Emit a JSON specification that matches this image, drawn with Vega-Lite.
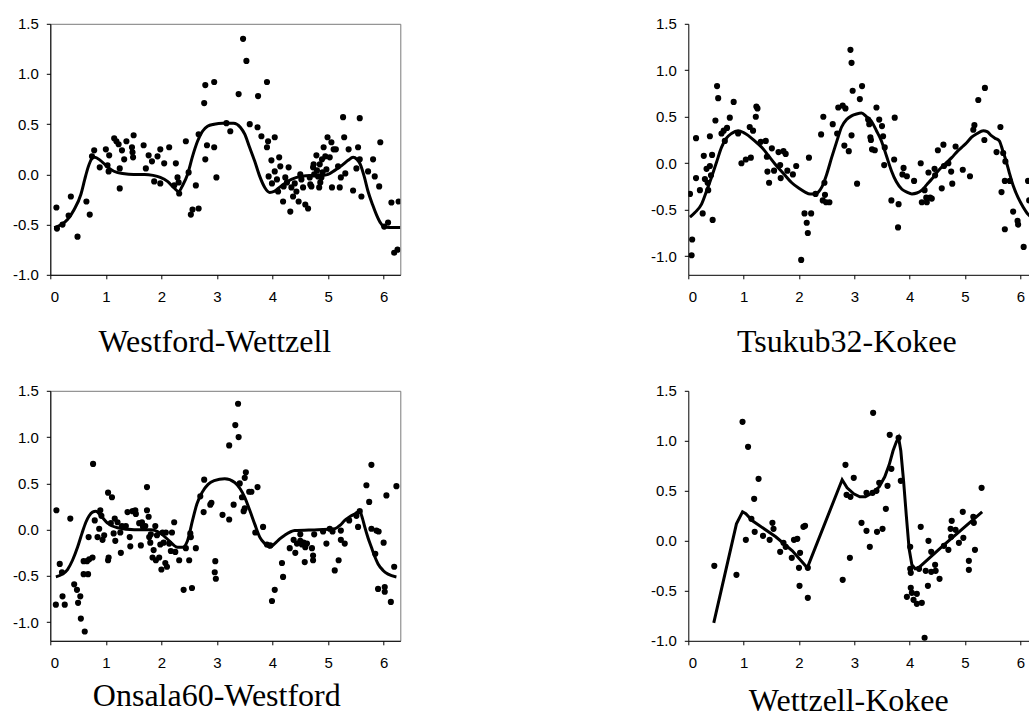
{
  "$schema": "https://vega.github.io/schema/vega-lite/v6.json",
  "padding": {"left": 9.3, "top": 15.8, "right": 0, "bottom": 0},
  "background": "white",
  "config": {
    "view": {"stroke": "#7a7a7a", "strokeWidth": 1},
    "axis": {
      "grid": false, "domainColor": "black", "domainWidth": 1, "tickColor": "black", "tickSize": 4,
      "labelFont": "Liberation Sans", "labelFontSize": 15, "labelColor": "black",
      "titleFont": "Liberation Serif", "titleFontSize": 32, "titleFontWeight": "normal", "titleColor": "black"
    },
    "axisX": {"labelFontSize": 15},
    "axisY": {"minExtent": 40, "maxExtent": 40, "labelFontSize": 15}
  },
  "datasets": {
    "tl_pts": [
      {"x":0.11,"y":-0.33},{"x":0.12,"y":-0.54},{"x":0.22,"y":-0.5},{"x":0.33,"y":-0.41},{"x":0.37,"y":-0.22},{"x":0.49,"y":-0.62},{"x":0.65,"y":-0.27},{"x":0.71,"y":-0.4},{"x":0.75,"y":0.18},{"x":0.79,"y":0.24},{"x":0.89,"y":0.07},{"x":1.0,"y":0.25},{"x":1.06,"y":0.19},{"x":1.03,"y":0.09},{"x":1.05,"y":0.03},{"x":1.15,"y":0.36},{"x":1.19,"y":0.33},{"x":1.23,"y":0.3},{"x":1.25,"y":0.06},{"x":1.25,"y":-0.14},{"x":1.29,"y":0.24},{"x":1.33,"y":0.15},{"x":1.37,"y":0.33},{"x":1.47,"y":0.27},{"x":1.48,"y":0.22},{"x":1.49,"y":0.17},{"x":1.5,"y":0.39},{"x":1.68,"y":0.29},{"x":1.72,"y":0.06},{"x":1.77,"y":0.19},{"x":1.83,"y":0.13},{"x":1.87,"y":-0.07},{"x":1.93,"y":0.18},{"x":1.98,"y":0.25},{"x":1.98,"y":-0.09},{"x":2.05,"y":0.11},{"x":2.14,"y":0.27},{"x":2.23,"y":-0.11},{"x":2.26,"y":0.11},{"x":2.29,"y":-0.03},{"x":2.31,"y":-0.08},{"x":2.32,"y":-0.19},{"x":2.44,"y":0.33},{"x":2.49,"y":0.02},{"x":2.53,"y":-0.4},{"x":2.56,"y":-0.35},{"x":2.62,"y":-0.11},{"x":2.67,"y":0.4},{"x":2.67,"y":-0.34},{"x":2.77,"y":0.71},{"x":2.79,"y":0.89},{"x":2.79,"y":0.15},{"x":2.82,"y":0.29},{"x":2.95,"y":0.92},{"x":2.95,"y":0.27},{"x":2.99,"y":-0.03},{"x":3.17,"y":0.51},{"x":3.24,"y":0.43},{"x":3.39,"y":0.8},{"x":3.47,"y":1.35},{"x":3.53,"y":1.13},{"x":3.59,"y":0.5},{"x":3.73,"y":0.47},{"x":3.74,"y":0.78},{"x":3.8,"y":0.38},{"x":3.9,"y":0.92},{"x":3.9,"y":0.27},{"x":3.92,"y":0.33},{"x":3.93,"y":-0.02},{"x":3.98,"y":0.14},{"x":3.99,"y":-0.09},{"x":4.04,"y":0.37},{"x":4.04,"y":0.03},{"x":4.08,"y":-0.05},{"x":4.12,"y":0.17},{"x":4.1,"y":-0.17},{"x":4.14,"y":0.08},{"x":4.19,"y":-0.27},{"x":4.2,"y":-0.12},{"x":4.23,"y":-0.03},{"x":4.26,"y":-0.08},{"x":4.29,"y":0.07},{"x":4.32,"y":-0.37},{"x":4.34,"y":-0.13},{"x":4.37,"y":-0.22},{"x":4.4,"y":-0.09},{"x":4.43,"y":-0.17},{"x":4.47,"y":-0.27},{"x":4.5,"y":0.0},{"x":4.52,"y":-0.05},{"x":4.55,"y":-0.13},{"x":4.59,"y":-0.3},{"x":4.64,"y":-0.34},{"x":4.67,"y":-0.03},{"x":4.7,"y":-0.12},{"x":4.73,"y":0.07},{"x":4.74,"y":0.1},{"x":4.79,"y":0.19},{"x":4.8,"y":0.04},{"x":4.82,"y":-0.02},{"x":4.84,"y":-0.13},{"x":4.85,"y":0.1},{"x":4.88,"y":-0.03},{"x":4.89,"y":0.15},{"x":4.92,"y":0.27},{"x":4.95,"y":0.18},{"x":4.97,"y":0.05},{"x":4.99,"y":0.37},{"x":5.03,"y":0.17},{"x":5.06,"y":0.32},{"x":5.07,"y":-0.13},{"x":5.1,"y":0.25},{"x":5.14,"y":0.25},{"x":5.18,"y":0.08},{"x":5.21,"y":-0.13},{"x":5.23,"y":-0.03},{"x":5.27,"y":0.57},{"x":5.29,"y":0.37},{"x":5.31,"y":0.01},{"x":5.37,"y":0.25},{"x":5.45,"y":-0.16},{"x":5.51,"y":0.06},{"x":5.54,"y":0.27},{"x":5.57,"y":0.56},{"x":5.57,"y":0.15},{"x":5.6,"y":-0.22},{"x":5.72,"y":0.03},{"x":5.81,"y":0.15},{"x":5.84,"y":-0.02},{"x":5.92,"y":-0.12},{"x":5.94,"y":0.32},{"x":6.01,"y":-0.52},{"x":6.08,"y":-0.48},{"x":6.14,"y":-0.28},{"x":6.19,"y":-0.78},{"x":6.25,"y":-0.75},{"x":6.27,"y":-0.27},{"x":4.68,"y":-0.1},{"x":4.75,"y":0.0},{"x":4.86,"y":-0.08},{"x":4.9,"y":0.02}
    ],
    "tl_fit": [
      {"x":0.07,"y":-0.53},{"x":0.2,"y":-0.5},{"x":0.31,"y":-0.45},{"x":0.43,"y":-0.35},{"x":0.55,"y":-0.2},{"x":0.62,"y":-0.05},{"x":0.68,"y":0.07},{"x":0.74,"y":0.15},{"x":0.8,"y":0.17},{"x":0.9,"y":0.14},{"x":1.0,"y":0.09},{"x":1.09,"y":0.05},{"x":1.2,"y":0.02},{"x":1.3,"y":0.01},{"x":1.5,"y":0.0},{"x":1.7,"y":0.0},{"x":1.85,"y":-0.01},{"x":1.98,"y":-0.03},{"x":2.11,"y":-0.07},{"x":2.22,"y":-0.13},{"x":2.31,"y":-0.17},{"x":2.39,"y":-0.1},{"x":2.47,"y":0.0},{"x":2.56,"y":0.18},{"x":2.65,"y":0.33},{"x":2.74,"y":0.43},{"x":2.83,"y":0.48},{"x":2.95,"y":0.5},{"x":3.1,"y":0.51},{"x":3.3,"y":0.51},{"x":3.42,"y":0.47},{"x":3.5,"y":0.4},{"x":3.58,"y":0.28},{"x":3.68,"y":0.13},{"x":3.77,"y":-0.02},{"x":3.86,"y":-0.13},{"x":3.95,"y":-0.18},{"x":4.03,"y":-0.17},{"x":4.1,"y":-0.14},{"x":4.22,"y":-0.09},{"x":4.34,"y":-0.05},{"x":4.5,"y":-0.02},{"x":4.7,"y":-0.01},{"x":4.9,"y":-0.01},{"x":5.0,"y":0.0},{"x":5.12,"y":0.04},{"x":5.25,"y":0.09},{"x":5.36,"y":0.14},{"x":5.45,"y":0.17},{"x":5.52,"y":0.15},{"x":5.58,"y":0.1},{"x":5.65,"y":-0.02},{"x":5.72,"y":-0.17},{"x":5.8,"y":-0.3},{"x":5.87,"y":-0.4},{"x":5.94,"y":-0.48},{"x":6.0,"y":-0.52},{"x":6.1,"y":-0.53},{"x":6.3,"y":-0.53}
    ],
    "tr_pts": [
      {"x":0.03,"y":-0.33},{"x":0.06,"y":-0.99},{"x":0.07,"y":-0.82},{"x":0.14,"y":0.27},{"x":0.14,"y":-0.16},{"x":0.21,"y":-0.29},{"x":0.26,"y":-0.54},{"x":0.28,"y":0.08},{"x":0.3,"y":-0.17},{"x":0.33,"y":-0.06},{"x":0.35,"y":-0.21},{"x":0.36,"y":-0.29},{"x":0.39,"y":0.29},{"x":0.39,"y":-0.03},{"x":0.41,"y":-0.13},{"x":0.43,"y":0.09},{"x":0.44,"y":-0.61},{"x":0.49,"y":0.46},{"x":0.52,"y":0.83},{"x":0.54,"y":0.7},{"x":0.6,"y":0.32},{"x":0.64,"y":0.35},{"x":0.66,"y":0.24},{"x":0.7,"y":0.38},{"x":0.75,"y":0.49},{"x":0.82,"y":0.66},{"x":0.9,"y":0.32},{"x":0.96,"y":0.0},{"x":1.04,"y":0.04},{"x":1.11,"y":0.39},{"x":1.13,"y":0.06},{"x":1.17,"y":0.35},{"x":1.22,"y":0.5},{"x":1.23,"y":0.61},{"x":1.25,"y":0.59},{"x":1.31,"y":0.23},{"x":1.4,"y":0.24},{"x":1.42,"y":0.07},{"x":1.43,"y":-0.09},{"x":1.46,"y":-0.21},{"x":1.51,"y":0.16},{"x":1.55,"y":-0.08},{"x":1.63,"y":0.12},{"x":1.66,"y":-0.02},{"x":1.67,"y":-0.16},{"x":1.72,"y":0.13},{"x":1.76,"y":0.1},{"x":1.79,"y":-0.08},{"x":1.89,"y":-0.12},{"x":1.95,"y":-0.03},{"x":2.04,"y":-1.04},{"x":2.1,"y":-0.54},{"x":2.14,"y":-0.64},{"x":2.16,"y":-0.75},{"x":2.18,"y":0.06},{"x":2.22,"y":-0.54},{"x":2.3,"y":-0.33},{"x":2.4,"y":0.31},{"x":2.44,"y":0.5},{"x":2.46,"y":-0.21},{"x":2.43,"y":-0.4},{"x":2.47,"y":-0.34},{"x":2.49,"y":-0.42},{"x":2.55,"y":-0.42},{"x":2.61,"y":0.42},{"x":2.69,"y":0.32},{"x":2.71,"y":0.6},{"x":2.79,"y":0.62},{"x":2.82,"y":0.19},{"x":2.84,"y":0.59},{"x":2.9,"y":0.13},{"x":2.93,"y":1.22},{"x":2.95,"y":1.08},{"x":2.95,"y":0.3},{"x":2.97,"y":0.78},{"x":3.05,"y":-0.22},{"x":3.1,"y":0.69},{"x":3.14,"y":0.83},{"x":3.25,"y":0.47},{"x":3.27,"y":0.42},{"x":3.29,"y":0.28},{"x":3.3,"y":0.25},{"x":3.32,"y":0.15},{"x":3.37,"y":0.14},{"x":3.4,"y":0.6},{"x":3.45,"y":0.47},{"x":3.5,"y":0.4},{"x":3.52,"y":0.29},{"x":3.54,"y":-0.02},{"x":3.55,"y":0.17},{"x":3.72,"y":0.04},{"x":3.67,"y":-0.4},{"x":3.73,"y":0.49},{"x":3.8,"y":-0.44},{"x":3.79,"y":-0.69},{"x":3.87,"y":-0.12},{"x":3.89,"y":-0.05},{"x":3.95,"y":-0.14},{"x":4.08,"y":-0.19},{"x":4.2,"y":0.0},{"x":4.22,"y":-0.42},{"x":4.27,"y":-0.29},{"x":4.3,"y":-0.37},{"x":4.31,"y":-0.42},{"x":4.34,"y":-0.1},{"x":4.37,"y":-0.37},{"x":4.4,"y":-0.38},{"x":4.45,"y":-0.06},{"x":4.46,"y":-0.13},{"x":4.51,"y":0.14},{"x":4.58,"y":-0.27},{"x":4.61,"y":0.2},{"x":4.62,"y":-0.03},{"x":4.7,"y":0.0},{"x":4.75,"y":-0.09},{"x":4.77,"y":-0.22},{"x":4.83,"y":0.18},{"x":4.96,"y":-0.07},{"x":5.09,"y":-0.14},{"x":5.15,"y":0.36},{"x":5.17,"y":0.41},{"x":5.24,"y":0.68},{"x":5.35,"y":0.25},{"x":5.36,"y":0.81},{"x":5.57,"y":0.12},{"x":5.64,"y":0.39},{"x":5.66,"y":-0.31},{"x":5.69,"y":0.11},{"x":5.72,"y":-0.19},{"x":5.72,"y":-0.71},{"x":5.73,"y":0.02},{"x":5.81,"y":-0.19},{"x":5.87,"y":-0.52},{"x":5.95,"y":-0.62},{"x":5.96,"y":-0.66},{"x":6.06,"y":-0.9},{"x":6.14,"y":-0.19},{"x":6.16,"y":-0.4},{"x":6.22,"y":0.1}
    ],
    "tr_fit": [
      {"x":0.03,"y":-0.58},{"x":0.12,"y":-0.53},{"x":0.24,"y":-0.44},{"x":0.33,"y":-0.3},{"x":0.42,"y":-0.15},{"x":0.51,"y":0.01},{"x":0.6,"y":0.17},{"x":0.69,"y":0.27},{"x":0.78,"y":0.32},{"x":0.9,"y":0.35},{"x":1.0,"y":0.33},{"x":1.08,"y":0.3},{"x":1.2,"y":0.24},{"x":1.33,"y":0.17},{"x":1.45,"y":0.08},{"x":1.57,"y":-0.01},{"x":1.72,"y":-0.11},{"x":1.87,"y":-0.21},{"x":2.0,"y":-0.27},{"x":2.11,"y":-0.31},{"x":2.2,"y":-0.33},{"x":2.29,"y":-0.33},{"x":2.35,"y":-0.31},{"x":2.41,"y":-0.26},{"x":2.5,"y":-0.12},{"x":2.59,"y":0.06},{"x":2.68,"y":0.23},{"x":2.77,"y":0.39},{"x":2.86,"y":0.47},{"x":2.95,"y":0.51},{"x":3.04,"y":0.53},{"x":3.13,"y":0.54},{"x":3.22,"y":0.5},{"x":3.31,"y":0.45},{"x":3.4,"y":0.35},{"x":3.49,"y":0.24},{"x":3.58,"y":0.08},{"x":3.67,"y":-0.08},{"x":3.76,"y":-0.2},{"x":3.86,"y":-0.28},{"x":3.95,"y":-0.31},{"x":4.04,"y":-0.33},{"x":4.13,"y":-0.32},{"x":4.22,"y":-0.29},{"x":4.31,"y":-0.23},{"x":4.4,"y":-0.17},{"x":4.49,"y":-0.1},{"x":4.58,"y":-0.04},{"x":4.67,"y":0.01},{"x":4.76,"y":0.06},{"x":4.85,"y":0.12},{"x":4.94,"y":0.17},{"x":5.03,"y":0.22},{"x":5.12,"y":0.28},{"x":5.22,"y":0.32},{"x":5.33,"y":0.35},{"x":5.4,"y":0.34},{"x":5.47,"y":0.3},{"x":5.54,"y":0.27},{"x":5.62,"y":0.24},{"x":5.68,"y":0.14},{"x":5.74,"y":0.03},{"x":5.8,"y":-0.1},{"x":5.87,"y":-0.24},{"x":5.96,"y":-0.37},{"x":6.05,"y":-0.47},{"x":6.14,"y":-0.55},{"x":6.28,"y":-0.6}
    ],
    "bl_pts": [
      {"x":0.11,"y":0.21},{"x":0.1,"y":-0.81},{"x":0.17,"y":-0.37},{"x":0.21,"y":-0.46},{"x":0.22,"y":-0.72},{"x":0.26,"y":-0.81},{"x":0.36,"y":0.12},{"x":0.43,"y":-0.59},{"x":0.48,"y":-0.65},{"x":0.5,"y":-0.79},{"x":0.54,"y":-0.72},{"x":0.55,"y":-0.96},{"x":0.6,"y":-0.34},{"x":0.6,"y":-0.48},{"x":0.62,"y":-1.1},{"x":0.66,"y":-0.34},{"x":0.68,"y":-0.48},{"x":0.69,"y":-0.08},{"x":0.7,"y":-0.32},{"x":0.76,"y":-0.3},{"x":0.77,"y":0.71},{"x":0.8,"y":0.1},{"x":0.85,"y":-0.08},{"x":0.88,"y":0.01},{"x":0.9,"y":0.21},{"x":0.92,"y":0.15},{"x":0.94,"y":-0.11},{"x":0.97,"y":-0.06},{"x":1.04,"y":0.4},{"x":1.04,"y":-0.33},{"x":1.05,"y":-0.3},{"x":1.09,"y":0.07},{"x":1.11,"y":0.35},{"x":1.14,"y":-0.04},{"x":1.16,"y":0.12},{"x":1.17,"y":-0.12},{"x":1.21,"y":0.08},{"x":1.26,"y":-0.03},{"x":1.27,"y":-0.25},{"x":1.29,"y":0.04},{"x":1.36,"y":0.04},{"x":1.39,"y":0.19},{"x":1.43,"y":-0.08},{"x":1.44,"y":-0.18},{"x":1.48,"y":0.2},{"x":1.54,"y":0.17},{"x":1.53,"y":0.21},{"x":1.6,"y":0.07},{"x":1.63,"y":-0.17},{"x":1.65,"y":0.08},{"x":1.67,"y":0.03},{"x":1.71,"y":0.04},{"x":1.74,"y":0.46},{"x":1.74,"y":0.21},{"x":1.77,"y":0.14},{"x":1.78,"y":-0.08},{"x":1.8,"y":-0.14},{"x":1.81,"y":-0.05},{"x":1.84,"y":-0.3},{"x":1.86,"y":-0.22},{"x":1.89,"y":0.04},{"x":1.9,"y":-0.33},{"x":1.92,"y":-0.06},{"x":1.96,"y":-0.3},{"x":1.98,"y":-0.16},{"x":2.0,"y":-0.43},{"x":2.02,"y":-0.03},{"x":2.04,"y":-0.14},{"x":2.07,"y":-0.36},{"x":2.08,"y":-0.03},{"x":2.1,"y":-0.4},{"x":2.14,"y":-0.15},{"x":2.17,"y":-0.23},{"x":2.19,"y":-0.03},{"x":2.23,"y":0.08},{"x":2.25,"y":-0.24},{"x":2.32,"y":-0.33},{"x":2.4,"y":-0.65},{"x":2.44,"y":-0.2},{"x":2.5,"y":-0.33},{"x":2.52,"y":-0.04},{"x":2.53,"y":-0.08},{"x":2.55,"y":-0.63},{"x":2.62,"y":-0.2},{"x":2.7,"y":0.36},{"x":2.76,"y":0.19},{"x":2.77,"y":0.54},{"x":2.88,"y":0.27},{"x":2.9,"y":0.29},{"x":2.96,"y":-0.46},{"x":2.97,"y":-0.34},{"x":2.98,"y":-0.53},{"x":3.1,"y":0.16},{"x":3.22,"y":0.11},{"x":3.22,"y":0.91},{"x":3.3,"y":0.27},{"x":3.33,"y":1.13},{"x":3.38,"y":1.36},{"x":3.39,"y":1.0},{"x":3.41,"y":0.5},{"x":3.45,"y":0.35},{"x":3.48,"y":0.2},{"x":3.5,"y":0.23},{"x":3.5,"y":0.56},{"x":3.52,"y":0.62},{"x":3.58,"y":0.41},{"x":3.62,"y":0.41},{"x":3.69,"y":-0.03},{"x":3.73,"y":0.46},{"x":3.83,"y":0.03},{"x":3.9,"y":-0.16},{"x":3.96,"y":-0.17},{"x":3.99,"y":-0.77},{"x":4.04,"y":-0.65},{"x":4.17,"y":-0.36},{"x":4.19,"y":-0.51},{"x":4.31,"y":-0.2},{"x":4.38,"y":-0.11},{"x":4.41,"y":-0.25},{"x":4.44,"y":-0.15},{"x":4.5,"y":-0.05},{"x":4.5,"y":-0.12},{"x":4.53,"y":-0.16},{"x":4.56,"y":-0.14},{"x":4.58,"y":-0.35},{"x":4.59,"y":-0.19},{"x":4.62,"y":-0.15},{"x":4.71,"y":-0.2},{"x":4.73,"y":-0.28},{"x":4.73,"y":-0.33},{"x":4.75,"y":-0.05},{"x":4.91,"y":-0.02},{"x":4.97,"y":-0.15},{"x":5.03,"y":0.01},{"x":5.08,"y":-0.02},{"x":5.12,"y":-0.44},{"x":5.19,"y":-0.33},{"x":5.23,"y":-0.01},{"x":5.23,"y":-0.11},{"x":5.3,"y":-0.15},{"x":5.38,"y":0.1},{"x":5.51,"y":0.15},{"x":5.54,"y":0.03},{"x":5.57,"y":0.2},{"x":5.69,"y":0.48},{"x":5.74,"y":0.3},{"x":5.78,"y":0.7},{"x":5.78,"y":0.01},{"x":5.85,"y":-0.26},{"x":5.87,"y":-0.01},{"x":5.9,"y":-0.64},{"x":5.91,"y":-0.02},{"x":6.0,"y":-0.14},{"x":6.02,"y":-0.67},{"x":6.02,"y":-0.62},{"x":6.05,"y":0.37},{"x":6.13,"y":-0.78},{"x":6.19,"y":-0.4},{"x":6.23,"y":0.47}
    ],
    "bl_fit": [
      {"x":0.1,"y":-0.51},{"x":0.22,"y":-0.48},{"x":0.31,"y":-0.43},{"x":0.4,"y":-0.33},{"x":0.49,"y":-0.19},{"x":0.57,"y":-0.04},{"x":0.64,"y":0.08},{"x":0.7,"y":0.15},{"x":0.76,"y":0.19},{"x":0.82,"y":0.2},{"x":0.91,"y":0.15},{"x":1.03,"y":0.07},{"x":1.21,"y":0.02},{"x":1.51,"y":0.0},{"x":1.81,"y":0.0},{"x":1.99,"y":-0.04},{"x":2.14,"y":-0.12},{"x":2.29,"y":-0.19},{"x":2.38,"y":-0.19},{"x":2.47,"y":-0.12},{"x":2.56,"y":0.1},{"x":2.64,"y":0.28},{"x":2.73,"y":0.4},{"x":2.84,"y":0.49},{"x":2.95,"y":0.53},{"x":3.14,"y":0.55},{"x":3.32,"y":0.51},{"x":3.42,"y":0.44},{"x":3.5,"y":0.35},{"x":3.59,"y":0.21},{"x":3.68,"y":0.06},{"x":3.77,"y":-0.08},{"x":3.86,"y":-0.15},{"x":3.95,"y":-0.19},{"x":4.04,"y":-0.15},{"x":4.13,"y":-0.1},{"x":4.22,"y":-0.06},{"x":4.4,"y":-0.01},{"x":4.82,"y":0.0},{"x":5.12,"y":0.01},{"x":5.22,"y":0.05},{"x":5.3,"y":0.1},{"x":5.39,"y":0.14},{"x":5.48,"y":0.17},{"x":5.57,"y":0.2},{"x":5.62,"y":0.12},{"x":5.66,"y":0.03},{"x":5.72,"y":-0.09},{"x":5.78,"y":-0.19},{"x":5.84,"y":-0.29},{"x":5.9,"y":-0.37},{"x":5.99,"y":-0.44},{"x":6.08,"y":-0.48},{"x":6.23,"y":-0.51}
    ],
    "br_pts": [
      {"x":0.47,"y":-0.25},{"x":0.87,"y":-0.34},{"x":0.98,"y":1.19},{"x":1.04,"y":0.01},{"x":1.08,"y":0.94},{"x":1.14,"y":0.22},{"x":1.19,"y":0.42},{"x":1.2,"y":0.09},{"x":1.27,"y":0.62},{"x":1.35,"y":0.05},{"x":1.47,"y":0.01},{"x":1.52,"y":0.18},{"x":1.54,"y":0.12},{"x":1.66,"y":-0.11},{"x":1.72,"y":-0.02},{"x":1.76,"y":-0.06},{"x":1.87,"y":-0.17},{"x":1.91,"y":0.01},{"x":1.97,"y":0.02},{"x":2.0,"y":-0.27},{"x":2.01,"y":-0.45},{"x":2.02,"y":-0.12},{"x":2.08,"y":0.14},{"x":2.11,"y":0.15},{"x":2.16,"y":-0.27},{"x":2.16,"y":-0.57},{"x":2.79,"y":-0.39},{"x":2.84,"y":0.76},{"x":2.86,"y":0.46},{"x":2.93,"y":0.44},{"x":2.99,"y":0.63},{"x":2.92,"y":-0.17},{"x":3.13,"y":0.18},{"x":3.22,"y":0.1},{"x":3.22,"y":0.48},{"x":3.28,"y":-0.06},{"x":3.33,"y":0.48},{"x":3.34,"y":1.28},{"x":3.41,"y":0.09},{"x":3.4,"y":0.5},{"x":3.45,"y":0.58},{"x":3.51,"y":0.12},{"x":3.57,"y":0.32},{"x":3.6,"y":0.55},{"x":3.64,"y":1.06},{"x":3.67,"y":0.72},{"x":3.8,"y":1.03},{"x":3.84,"y":0.6},{"x":3.95,"y":-0.56},{"x":4.01,"y":-0.06},{"x":4.01,"y":-0.28},{"x":4.02,"y":-0.32},{"x":4.02,"y":-0.47},{"x":4.04,"y":-0.52},{"x":4.07,"y":-0.59},{"x":4.13,"y":-0.53},{"x":4.13,"y":-0.63},{"x":4.17,"y":-0.28},{"x":4.2,"y":0.14},{"x":4.22,"y":-0.62},{"x":4.27,"y":-0.97},{"x":4.29,"y":-0.3},{"x":4.33,"y":-0.45},{"x":4.34,"y":0.0},{"x":4.39,"y":-0.31},{"x":4.39,"y":-0.11},{"x":4.46,"y":-0.24},{"x":4.47,"y":-0.3},{"x":4.54,"y":-0.38},{"x":4.62,"y":-0.05},{"x":4.7,"y":-0.09},{"x":4.75,"y":0.04},{"x":4.74,"y":0.12},{"x":4.76,"y":0.2},{"x":4.83,"y":0.11},{"x":4.89,"y":-0.02},{"x":4.96,"y":0.29},{"x":4.97,"y":0.03},{"x":5.07,"y":-0.2},{"x":5.07,"y":-0.29},{"x":5.15,"y":0.24},{"x":5.16,"y":0.18},{"x":5.18,"y":-0.09},{"x":5.3,"y":0.53}
    ],
    "br_fit": [
      {"x":0.46,"y":-0.82},{"x":0.87,"y":0.17},{"x":0.98,"y":0.29},{"x":1.04,"y":0.27},{"x":1.16,"y":0.2},{"x":1.58,"y":0.04},{"x":1.88,"y":-0.1},{"x":2.15,"y":-0.27},{"x":2.78,"y":0.61},{"x":2.87,"y":0.53},{"x":2.99,"y":0.47},{"x":3.1,"y":0.44},{"x":3.2,"y":0.44},{"x":3.33,"y":0.48},{"x":3.45,"y":0.54},{"x":3.55,"y":0.64},{"x":3.63,"y":0.76},{"x":3.7,"y":0.9},{"x":3.76,"y":0.99},{"x":3.8,"y":1.03},{"x":3.84,"y":0.9},{"x":3.89,"y":0.6},{"x":3.94,"y":0.25},{"x":3.99,"y":-0.08},{"x":4.04,"y":-0.24},{"x":4.1,"y":-0.28},{"x":4.16,"y":-0.27},{"x":4.3,"y":-0.2},{"x":4.6,"y":-0.05},{"x":5.31,"y":0.29}
    ]
  },
  "spacing": {"row": 25, "column": 247},
  "columns": 2,
  "concat": [
    {
      "width": 350, "height": 251,
      "layer": [
        {"data": {"name": "tl_pts"}, "mark": {"type": "circle", "size": 38, "color": "black", "opacity": 1, "clip": true},
         "encoding": {
           "x": {"field": "x", "type": "quantitative", "scale": {"domain": [0, 6.3], "nice": false, "zero": false},
                 "axis": {"values": [0,1,2,3,4,5,6], "format": "d", "labelFontSize": 15, "labelPadding": 11, "title": "Westford-Wettzell", "titlePadding": 21.4, "titleX": 164}},
           "y": {"field": "y", "type": "quantitative", "scale": {"domain": [-1, 1.5], "nice": false, "zero": false},
                 "axis": {"values": [-1,-0.5,0,0.5,1,1.5], "labelFontSize": 15, "labelExpr": "datum.value < 0 ? '-' + format(-datum.value, '.1f') : format(datum.value, '.1f')", "labelPadding": 8, "title": null}}
         }},
        {"data": {"name": "tl_fit"}, "mark": {"type": "line", "color": "black", "strokeWidth": 3, "interpolate": "monotone", "clip": true},
         "encoding": {"x": {"field": "x", "type": "quantitative"}, "y": {"field": "y", "type": "quantitative"}}}
      ]
    },
    {
      "width": 342, "height": 251,
      "view": {"stroke": null},
      "layer": [
        {"data": {"name": "tr_pts"}, "mark": {"type": "circle", "size": 38, "color": "black", "opacity": 1, "clip": true},
         "encoding": {
           "x": {"field": "x", "type": "quantitative", "scale": {"domain": [0, 6.18], "nice": false, "zero": false},
                 "axis": {"values": [0,1,2,3,4,5,6], "format": "d", "labelFontSize": 15, "labelPadding": 11, "title": "Tsukub32-Kokee", "titlePadding": 21.4, "titleX": 158}},
           "y": {"field": "y", "type": "quantitative", "scale": {"domain": [-1.2, 1.5], "nice": false, "zero": false},
                 "axis": {"values": [-1,-0.5,0,0.5,1,1.5], "labelFontSize": 15, "labelExpr": "datum.value < 0 ? '-' + format(-datum.value, '.1f') : format(datum.value, '.1f')", "labelPadding": 8, "title": null}}
         }},
        {"data": {"name": "tr_fit"}, "mark": {"type": "line", "color": "black", "strokeWidth": 3, "interpolate": "monotone", "clip": true},
         "encoding": {"x": {"field": "x", "type": "quantitative"}, "y": {"field": "y", "type": "quantitative"}}},
        {"mark": {"type": "rule", "color": "#7a7a7a", "strokeWidth": 1}, "encoding": {"y": {"datum": 1.5}}}
      ]
    },
    {
      "width": 350, "height": 250,
      "layer": [
        {"data": {"name": "bl_pts"}, "mark": {"type": "circle", "size": 38, "color": "black", "opacity": 1, "clip": true},
         "encoding": {
           "x": {"field": "x", "type": "quantitative", "scale": {"domain": [0, 6.3], "nice": false, "zero": false},
                 "axis": {"values": [0,1,2,3,4,5,6], "format": "d", "labelFontSize": 15, "labelPadding": 11, "title": "Onsala60-Westford", "titlePadding": 9.7, "titleX": 166}},
           "y": {"field": "y", "type": "quantitative", "scale": {"domain": [-1.2, 1.5], "nice": false, "zero": false},
                 "axis": {"values": [-1,-0.5,0,0.5,1,1.5], "labelFontSize": 15, "labelExpr": "datum.value < 0 ? '-' + format(-datum.value, '.1f') : format(datum.value, '.1f')", "labelPadding": 8, "title": null}}
         }},
        {"data": {"name": "bl_fit"}, "mark": {"type": "line", "color": "black", "strokeWidth": 3, "interpolate": "monotone", "clip": true},
         "encoding": {"x": {"field": "x", "type": "quantitative"}, "y": {"field": "y", "type": "quantitative"}}}
      ]
    },
    {
      "width": 342, "height": 250,
      "view": {"stroke": null},
      "layer": [
        {"data": {"name": "br_pts"}, "mark": {"type": "circle", "size": 38, "color": "black", "opacity": 1, "clip": true},
         "encoding": {
           "x": {"field": "x", "type": "quantitative", "scale": {"domain": [0, 6.18], "nice": false, "zero": false},
                 "axis": {"values": [0,1,2,3,4,5,6], "format": "d", "labelFontSize": 15, "labelPadding": 11, "title": "Wettzell-Kokee", "titlePadding": 14.7, "titleX": 160}},
           "y": {"field": "y", "type": "quantitative", "scale": {"domain": [-1, 1.5], "nice": false, "zero": false},
                 "axis": {"values": [-1,-0.5,0,0.5,1,1.5], "labelFontSize": 15, "labelExpr": "datum.value < 0 ? '-' + format(-datum.value, '.1f') : format(datum.value, '.1f')", "labelPadding": 8, "title": null}}
         }},
        {"data": {"name": "br_fit"}, "mark": {"type": "line", "color": "black", "strokeWidth": 3, "interpolate": "linear", "clip": true},
         "encoding": {"x": {"field": "x", "type": "quantitative"}, "y": {"field": "y", "type": "quantitative"}}},
        {"mark": {"type": "rule", "color": "#7a7a7a", "strokeWidth": 1}, "encoding": {"y": {"datum": 1.5}}}
      ]
    }
  ]
}
